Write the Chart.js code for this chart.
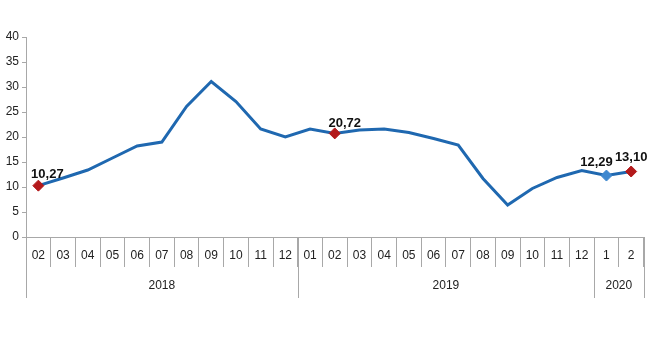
<!DOCTYPE html>
<html>
<head>
<meta charset="utf-8">
<script src="https://cdn.jsdelivr.net/npm/chart.js@4.4.1/dist/chart.umd.min.js"></script>
<style>
  html, body { margin: 0; padding: 0; background: #fff; }
  #wrap { width: 650px; height: 360px; position: relative; }
</style>
</head>
<body>
<div id="wrap"><canvas id="rateChart" width="650" height="360"></canvas></div>
<script>
const months = ['02','03','04','05','06','07','08','09','10','11','12',
                '01','02','03','04','05','06','07','08','09','10','11','12',
                '1','2'];
const values = [10.27, 11.8, 13.4, 15.8, 18.2, 19.0, 26.1, 31.1, 27.1, 21.6, 20.0,
                21.6, 20.72, 21.4, 21.6, 20.9, 19.7, 18.4, 11.7, 6.4, 9.7, 11.9, 13.3,
                12.29, 13.10];
const years = ['2018', '2019', '2020'];
const yearSpans = [11, 12, 2];
const labelledPoints = [0, 12, 23, 24];
const yTicks = [0, 5, 10, 15, 20, 25, 30, 35, 40];

const lineBlue = '#1f68b0';
const gridGrey = '#a8a8a8';
// label offsets from their point, in px
const labelShift = { 0: [9, -11], 12: [10, -10], 23: [-10, -13], 24: [0, -14] };

const pointColors = values.map((_, i) => {
    if (i === 23) return '#3f88cf';
    return labelledPoints.includes(i) ? '#b3191b' : lineBlue;
});
const pointRadii = values.map((_, i) => labelledPoints.includes(i) ? 5.5 : 0);

// year row under the month labels
const yearRow = {
    id: 'yearRow',
    afterDraw(chart) {
        const ctx = chart.ctx;
        const x = chart.scales.x;
        const top = chart.chartArea.bottom;
        const half = (x.getPixelForValue(1) - x.getPixelForValue(0)) / 2;
        ctx.save();
        ctx.strokeStyle = gridGrey;
        ctx.lineWidth = 1;
        ctx.fillStyle = '#222';
        ctx.font = '12px "Liberation Sans", Arial, sans-serif';
        ctx.textAlign = 'center';
        ctx.textBaseline = 'middle';
        let start = 0;
        const edges = [x.getPixelForValue(0) - half];
        yearSpans.forEach((span, k) => {
            const end = start + span - 1;
            const left = x.getPixelForValue(start) - half;
            const right = x.getPixelForValue(end) + half;
            edges.push(right);
            ctx.fillText(years[k], (left + right) / 2, top + 49);
            start += span;
        });
        edges.forEach(px => {
            const xx = Math.round(px) + 0.5;
            ctx.beginPath();
            ctx.moveTo(xx, top);
            ctx.lineTo(xx, top + 61);
            ctx.stroke();
        });
        ctx.restore();
    }
};

// value labels near the marked points
const valueLabels = {
    id: 'valueLabels',
    afterDatasetsDraw(chart) {
        const ctx = chart.ctx;
        const meta = chart.getDatasetMeta(0);
        ctx.save();
        ctx.fillStyle = '#111';
        ctx.font = 'bold 13px "Liberation Sans", Arial, sans-serif';
        ctx.textAlign = 'center';
        ctx.textBaseline = 'middle';
        labelledPoints.forEach(i => {
            const p = meta.data[i];
            const [dx, dy] = labelShift[i];
            const txt = values[i].toFixed(2).replace('.', ',');
            ctx.fillText(txt, p.x + dx, p.y + dy);
        });
        ctx.restore();
    }
};

new Chart(document.getElementById('rateChart'), {
    type: 'line',
    data: {
        labels: months,
        datasets: [{
            data: values,
            borderColor: lineBlue,
            borderWidth: 3,
            tension: 0,
            pointStyle: 'rectRot',
            pointRadius: pointRadii,
            pointBackgroundColor: pointColors,
            pointBorderColor: pointColors,
            pointBorderWidth: 1
        }]
    },
    options: {
        responsive: false,
        animation: false,
        devicePixelRatio: 1,
        layout: { padding: { top: 37, right: 5, bottom: 62, left: 0 } },
        plugins: {
            legend: { display: false },
            tooltip: { enabled: false }
        },
        scales: {
            x: {
                type: 'category',
                offset: true,
                border: { color: gridGrey, width: 1 },
                grid: {
                    offset: true,
                    drawOnChartArea: false,
                    tickLength: 30,
                    color: gridGrey
                },
                ticks: {
                    padding: -19,
                    maxRotation: 0,
                    autoSkip: false,
                    color: '#222',
                    font: { family: '"Liberation Sans", Arial, sans-serif', size: 12 }
                },
                afterFit(scale) { scale.height = 61; }
            },
            y: {
                min: 0,
                max: 40,
                afterBuildTicks(scale) { scale.ticks = yTicks.map(v => ({ value: v })); },
                border: { color: gridGrey, width: 1 },
                grid: {
                    drawOnChartArea: false,
                    tickLength: 4,
                    color: gridGrey
                },
                ticks: {
                    padding: 3,
                    color: '#222',
                    font: { family: '"Liberation Sans", Arial, sans-serif', size: 12 }
                },
                afterFit(scale) { scale.width = 26; }
            }
        }
    },
    plugins: [yearRow, valueLabels]
});
</script>
</body>
</html>
